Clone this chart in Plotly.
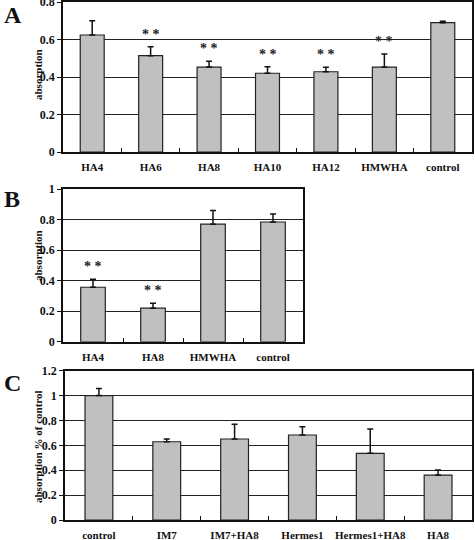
import plotly.graph_objects as go

# Panel A
cats_A = ["HA4", "HA6", "HA8", "HA10", "HA12", "HMWHA", "control"]
vals_A = [0.624, 0.514, 0.453, 0.420, 0.428, 0.453, 0.690]
err_A = [0.076, 0.048, 0.031, 0.035, 0.024, 0.070, 0.007]
sig_A = ["", "**", "**", "**", "**", "**", ""]

# Panel B
cats_B = ["HA4", "HA8", "HMWHA", "control"]
vals_B = [0.357, 0.220, 0.770, 0.784]
err_B = [0.053, 0.032, 0.090, 0.052]
sig_B = ["**", "**", "", ""]

# Panel C
cats_C = ["control", "IM7", "IM7+HA8", "Hermes1", "Hermes1+HA8", "HA8"]
vals_C = [1.000, 0.629, 0.651, 0.683, 0.536, 0.361]
err_C = [0.056, 0.022, 0.118, 0.067, 0.195, 0.040]

OFF = 8                      # figure extends above the visible window by this many px
W, H = 475, 540 + OFF
FONT = "Liberation Serif"
BAR = "#c0c0c0"
INK = "#111111"

fig = go.Figure()

panels = [
    ("x", "y", cats_A, vals_A, err_A, sig_A, (63, 472), (152, 2), (0, 0.8), "A", 15, "absorption", 75),
    ("x2", "y2", cats_B, vals_B, err_B, sig_B, (63, 303), (341.8, 189), (0, 1.0), "B", 199, "absorption", 256),
    ("x3", "y3", cats_C, vals_C, err_C, None, (65, 472), (520, 370.7), (0, 1.2), "C", 383, "absorption % of control", 447),
]


def py(p):
    return (H - (p + OFF)) / H


for i, (xa, ya, cats, vals, errs, sig, xpx, ypx, yr, letter, ly, ytitle, ty) in enumerate(panels):
    fig.add_trace(go.Bar(
        x=cats, y=vals, xaxis=xa, yaxis=ya, width=0.41,
        marker=dict(color=BAR, line=dict(color="#222222", width=1.2)),
        error_y=dict(type="data", array=errs, arrayminus=[0] * len(errs), symmetric=False,
                     color=INK, thickness=1.5, width=3),
        showlegend=False,
    ))
    n = len(cats)
    sfx = "" if i == 0 else str(i + 1)
    axis_common = dict(showline=True, linecolor=INK, linewidth=1.5, mirror=True, automargin=False)
    fig.layout["xaxis" + sfx] = dict(
        domain=[xpx[0] / W, xpx[1] / W], anchor="y" + sfx, range=[-0.5, n - 0.5],
        type="category", tickson="boundaries", ticks="inside", ticklen=4, tickcolor=INK,
        tickangle=0, showgrid=False, ticklabelstandoff=4,
        tickfont=dict(family=FONT, size=11, color=INK, weight="bold"),
        **axis_common,
    )
    fig.layout["yaxis" + sfx] = dict(
        domain=[py(ypx[0]), py(ypx[1])], anchor="x" + sfx, range=list(yr),
        dtick=0.2, ticks="outside", ticklen=4, tickcolor=INK,
        showgrid=True, gridcolor="#222222", gridwidth=1, zeroline=False,
        tickfont=dict(family=FONT, size=12, color=INK, weight="bold"),
        **axis_common,
    )
    fig.add_annotation(text="<b>" + letter + "</b>", xref="paper", yref="paper",
                       x=2 / W, y=py(ly), xanchor="left", yanchor="middle", showarrow=False,
                       font=dict(family=FONT, size=24, color=INK))
    fig.add_annotation(text="<b>" + ytitle + "</b>", xref="paper", yref="paper",
                       x=38 / W, y=py(ty), xanchor="center", yanchor="middle", showarrow=False,
                       textangle=-90, font=dict(family=FONT, size=11, color=INK))
    if sig:
        for c, v, e, s in zip(cats, vals, errs, sig):
            if s:
                fig.add_annotation(text="<b>" + " ".join(s) + "</b>", x=c, y=v + e, xref=xa, yref=ya,
                                   xanchor="center", yanchor="bottom", yshift=3, showarrow=False,
                                   font=dict(family=FONT, size=14, color="#222222"))

fig.update_layout(
    width=W, height=H, margin=dict(l=0, r=0, t=0, b=0, autoexpand=False),
    paper_bgcolor="white", plot_bgcolor="white",
    font=dict(family=FONT, color=INK),
)

fig.write_html(
    "out.html",
    config={"displayModeBar": False},
    post_script=("document.body.style.margin='0';document.body.style.overflow='hidden';"
                 "document.body.style.marginTop='-%dpx';" % OFF),
)
